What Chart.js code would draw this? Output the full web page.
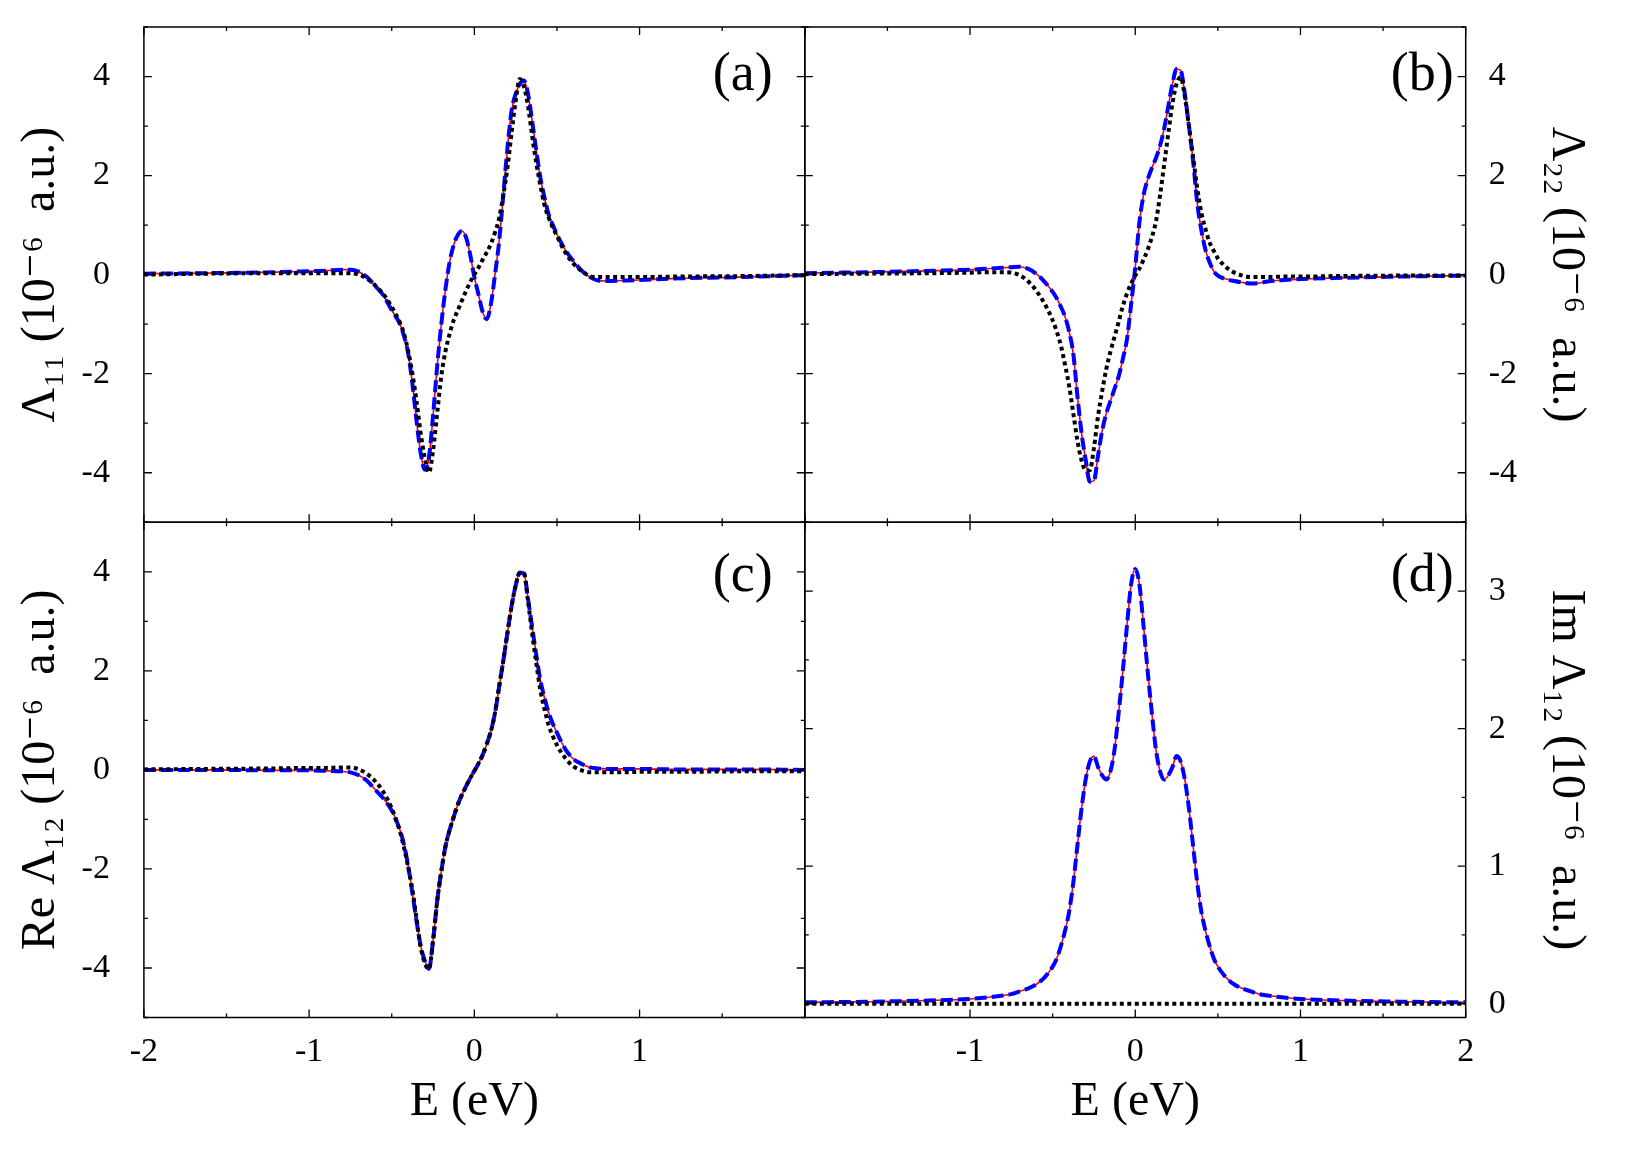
<!DOCTYPE html>
<html>
<head>
<meta charset="utf-8">
<title>Lambda components vs energy</title>
<script src="https://cdn.jsdelivr.net/npm/chart.js@4.4.1/dist/chart.umd.min.js"></script>
<style>
  body { margin: 0; background: #fff; }
  canvas { display: block; }
</style>
</head>
<body>
<canvas id="myChart" width="1630" height="1157"></canvas>
<script>
// energy grid (eV) shared by the curves
const energy = [-2, -1.6, -1.2, -1, -0.9, -0.8, -0.75, -0.7, -0.65, -0.6, -0.55, -0.5,
  -0.475, -0.45, -0.425, -0.4, -0.375, -0.35, -0.325, -0.3, -0.275, -0.25, -0.225, -0.2, -0.175, -0.15, -0.125, -0.1, -0.075, -0.05, -0.025,
  0, 0.025, 0.05, 0.075, 0.1, 0.125, 0.15, 0.175, 0.2, 0.225, 0.25, 0.275, 0.3, 0.325, 0.35, 0.375, 0.4, 0.425, 0.45, 0.475,
  0.5, 0.55, 0.6, 0.65, 0.7, 0.75, 0.8, 0.9, 1, 1.2, 1.6, 2];

// (a) Lambda_11
const aRed = [0.02, 0.03, 0.05, 0.07, 0.08, 0.10, 0.10, 0.06, -0.05, -0.23, -0.42, -0.72,
  -0.85, -1.0, -1.25, -1.6, -2.2, -2.95, -3.6, -3.94, -3.7, -2.85, -1.85, -1.0, -0.3, 0.25, 0.6, 0.8, 0.88, 0.75, 0.4,
  -0.05, -0.4, -0.75, -0.9, -0.6, 0.0, 0.67, 1.6, 2.55, 3.3, 3.65, 3.85, 3.92, 3.65, 3.1, 2.5, 1.95, 1.55, 1.21, 1.0,
  0.81, 0.5, 0.27, 0.08, -0.05, -0.12, -0.13, -0.12, -0.11, -0.08, -0.05, -0.01];
const aBlack = [0.0, 0.02, 0.03, 0.03, 0.03, 0.03, 0.03, 0.0, -0.08, -0.22, -0.4, -0.65,
  -0.8, -0.97, -1.2, -1.55, -2.0, -2.55, -3.2, -3.7, -4.0, -3.55, -2.8, -2.05, -1.55, -1.2, -0.92, -0.72, -0.52, -0.33, -0.15,
  0.0, 0.14, 0.3, 0.45, 0.62, 0.85, 1.14, 1.6, 2.15, 2.85, 3.5, 3.95, 3.8, 3.4, 2.8, 2.25, 1.8, 1.4, 1.15, 0.95,
  0.78, 0.45, 0.22, 0.07, -0.03, -0.05, -0.05, -0.05, -0.05, -0.04, -0.03, -0.01];

// (b) Lambda_22
const bRed = [0.03, 0.05, 0.08, 0.10, 0.12, 0.14, 0.15, 0.16, 0.12, 0.02, -0.14, -0.35,
  -0.48, -0.65, -0.85, -1.15, -1.6, -2.45, -3.2, -3.74, -4.18, -4.16, -3.65, -3.15, -2.8, -2.55, -2.3, -2.05, -1.7, -1.3, -0.6,
  0.15, 1.05, 1.6, 1.92, 2.15, 2.35, 2.6, 2.95, 3.4, 3.85, 4.15, 4.12, 3.65, 3.0, 2.3, 1.45, 0.9, 0.5, 0.25, 0.07,
  -0.02, -0.09, -0.13, -0.16, -0.18, -0.17, -0.14, -0.11, -0.09, -0.07, -0.04, -0.02];
const bBlack = [0.01, 0.02, 0.03, 0.04, 0.05, 0.05, 0.04, -0.01, -0.13, -0.32, -0.58, -0.92,
  -1.15, -1.43, -1.82, -2.25, -2.8, -3.35, -3.75, -3.95, -3.95, -3.5, -2.85, -2.35, -1.9, -1.55, -1.25, -0.95, -0.63, -0.38, -0.18,
  -0.02, 0.12, 0.3, 0.5, 0.75, 1.07, 1.6, 2.22, 2.85, 3.45, 3.85, 3.99, 3.6, 3.0, 2.38, 1.75, 1.25, 0.92, 0.65, 0.48,
  0.33, 0.15, 0.04, -0.02, -0.05, -0.05, -0.05, -0.04, -0.04, -0.03, -0.02, -0.02];

// (c) Re Lambda_12
const cRed = [0.0, 0.0, -0.01, -0.01, -0.02, -0.03, -0.05, -0.11, -0.22, -0.4, -0.58, -0.82,
  -1.0, -1.22, -1.52, -1.95, -2.49, -3.05, -3.55, -3.85, -4.02, -3.45, -2.65, -2.05, -1.55, -1.22, -0.95, -0.7, -0.5, -0.33, -0.17,
  -0.02, 0.13, 0.3, 0.52, 0.78, 1.15, 1.68, 2.2, 2.76, 3.3, 3.72, 3.98, 3.97, 3.45, 2.88, 2.32, 1.8, 1.45, 1.15, 0.93,
  0.75, 0.42, 0.22, 0.12, 0.05, 0.03, 0.02, 0.02, 0.02, 0.01, 0.01, 0.0];
const cBlack = [0.01, 0.02, 0.03, 0.04, 0.04, 0.05, 0.05, 0.01, -0.08, -0.23, -0.45, -0.78,
  -1.0, -1.25, -1.58, -1.97, -2.42, -3.0, -3.58, -3.9, -4.02, -3.45, -2.65, -2.05, -1.55, -1.22, -0.95, -0.7, -0.5, -0.33, -0.17,
  -0.02, 0.13, 0.3, 0.52, 0.78, 1.15, 1.68, 2.2, 2.76, 3.3, 3.72, 3.98, 3.97, 3.4, 2.75, 2.15, 1.6, 1.22, 0.9, 0.68,
  0.5, 0.24, 0.07, -0.01, -0.05, -0.05, -0.05, -0.05, -0.04, -0.04, -0.03, -0.03];

// (d) Im Lambda_12
const dRed = [0.01, 0.015, 0.025, 0.035, 0.045, 0.06, 0.07, 0.09, 0.11, 0.14, 0.19, 0.27,
  0.33, 0.42, 0.53, 0.67, 0.88, 1.15, 1.42, 1.63, 1.76, 1.80, 1.72, 1.66, 1.63, 1.69, 1.85, 2.12, 2.42, 2.75, 3.05,
  3.16, 3.05, 2.75, 2.42, 2.12, 1.85, 1.69, 1.63, 1.66, 1.72, 1.80, 1.76, 1.63, 1.42, 1.15, 0.88, 0.67, 0.53, 0.42, 0.33,
  0.27, 0.19, 0.14, 0.11, 0.09, 0.07, 0.06, 0.045, 0.035, 0.025, 0.015, 0.01];
const dBlackE = [-2, 2];
const dBlack = [0, 0];

// ticks
const xMinor = [-2, -1.5, -1, -0.5, 0, 0.5, 1, 1.5, 2];
const xMajor = [-2, -1, 0, 1, 2];
const xLabelsLeft = [-2, -1, 0, 1];
const xLabelsRight = [-1, 0, 1, 2];
const yMinorAB = [-5, -4, -3, -2, -1, 0, 1, 2, 3, 4, 5];
const yLabelsAB = [-4, -2, 0, 2, 4];
const yMinorD = [0, 0.5, 1, 1.5, 2, 2.5, 3, 3.5];
const yLabelsD = [0, 1, 2, 3];

const serif = '"Liberation Serif", "DejaVu Serif", "Times New Roman", serif';
Chart.defaults.font.family = serif;
Chart.defaults.color = '#000';

function pts(xs, ys) {
  return xs.map((x, i) => ({x: x, y: ys[i]}));
}

const solidRed = {borderColor: '#ff0000', borderWidth: 1.6, order: 3};
const dashBlue = {borderColor: '#0000ff', borderWidth: 4, borderDash: [12, 5], order: 2};
const dotBlack = {borderColor: '#000000', borderWidth: 4, borderDash: [4, 3.5], order: 1};

function curve(label, xs, ys, style, xId, yId) {
  return Object.assign({
    label: label,
    data: pts(xs, ys),
    xAxisID: xId,
    yAxisID: yId,
    pointRadius: 0,
    fill: false,
    cubicInterpolationMode: 'monotone',
    borderCapStyle: 'butt'
  }, style);
}

// no automatic label padding, the plot box is fixed
function noPad(s) {
  s.paddingTop = 0; s.paddingBottom = 0; s.paddingLeft = 0; s.paddingRight = 0;
}

function xAxis(labels, weight) {
  return {
    type: 'linear', position: 'bottom', stack: 'bottom', stackWeight: 1, weight: weight,
    min: -2, max: 2,
    afterFit: s => { s.height = 139.5; noPad(s); },
    afterBuildTicks: s => { s.ticks = labels.map(v => ({value: v})); },
    grid: {display: false}, border: {display: false},
    ticks: {font: {size: 34}, padding: 6, maxRotation: 0, autoSkip: false, callback: v => String(v)},
    title: {display: true, text: 'E (eV)', font: {size: 48}, padding: {top: 0, bottom: 26}}
  };
}

function yAxis(pos, min, max, labels, text, weight) {
  const left = pos === 'left';
  return {
    type: 'linear', position: pos, stack: pos, stackWeight: 1, weight: weight,
    min: min, max: max,
    afterFit: s => { s.width = left ? 143.9 : 164.3; noPad(s); },
    afterBuildTicks: s => { s.ticks = labels.map(v => ({value: v})); },
    grid: {display: false}, border: {display: false},
    ticks: {font: {size: 34}, padding: left ? 26 : 15, autoSkip: false, callback: v => String(v)},
    title: {display: true, text: text, font: {size: 48}, padding: {top: left ? 13 : 36, bottom: 0}}
  };
}

const panels = [
  {x: 'xL', y: 'yA', tag: '(a)', inset: 32, drop: 63, minor: yMinorAB, major: yLabelsAB},
  {x: 'xR', y: 'yB', tag: '(b)', inset: 12, drop: 63, minor: yMinorAB, major: yLabelsAB},
  {x: 'xL', y: 'yC', tag: '(c)', inset: 32, drop: 69, minor: yMinorAB, major: yLabelsAB},
  {x: 'xR', y: 'yD', tag: '(d)', inset: 12, drop: 69, minor: yMinorD, major: yLabelsD}
];

// frame, inward ticks and panel tags
const frames = {
  id: 'frames',
  afterDatasetsDraw(chart) {
    const ctx = chart.ctx;
    panels.forEach(p => {
      const xs = chart.scales[p.x], ys = chart.scales[p.y];
      const l = xs.left, r = xs.right, t = ys.top, b = ys.bottom;
      ctx.save();
      ctx.strokeStyle = '#000';
      ctx.lineWidth = 1.5;
      ctx.strokeRect(l, t, r - l, b - t);
      ctx.lineWidth = 1.3;
      ctx.beginPath();
      xMinor.forEach(v => {
        const px = xs.getPixelForValue(v);
        const len = xMajor.includes(v) ? 8 : 4;
        ctx.moveTo(px, b); ctx.lineTo(px, b - len);
        ctx.moveTo(px, t); ctx.lineTo(px, t + len);
      });
      p.minor.forEach(v => {
        const py = ys.getPixelForValue(v);
        const len = p.major.includes(v) ? 8 : 4;
        ctx.moveTo(l, py); ctx.lineTo(l + len, py);
        ctx.moveTo(r, py); ctx.lineTo(r - len, py);
      });
      ctx.stroke();
      ctx.fillStyle = '#000';
      ctx.font = '54px ' + serif;
      ctx.textAlign = 'right';
      ctx.textBaseline = 'alphabetic';
      ctx.fillText(p.tag, r - p.inset, t + p.drop);
      ctx.restore();
    });
  }
};

const ctx = document.getElementById('myChart').getContext('2d');
const myChart = new Chart(ctx, {
  type: 'line',
  data: {
    datasets: [
      curve('a full', energy, aRed, solidRed, 'xL', 'yA'),
      curve('a approx', energy, aRed, dashBlue, 'xL', 'yA'),
      curve('a simple', energy, aBlack, dotBlack, 'xL', 'yA'),
      curve('b full', energy, bRed, solidRed, 'xR', 'yB'),
      curve('b approx', energy, bRed, dashBlue, 'xR', 'yB'),
      curve('b simple', energy, bBlack, dotBlack, 'xR', 'yB'),
      curve('c full', energy, cRed, solidRed, 'xL', 'yC'),
      curve('c approx', energy, cRed, dashBlue, 'xL', 'yC'),
      curve('c simple', energy, cBlack, dotBlack, 'xL', 'yC'),
      curve('d full', energy, dRed, solidRed, 'xR', 'yD'),
      curve('d approx', energy, dRed, dashBlue, 'xR', 'yD'),
      curve('d simple', dBlackE, dBlack, dotBlack, 'xR', 'yD')
    ]
  },
  options: {
    responsive: false,
    animation: false,
    devicePixelRatio: 1,
    layout: {padding: {top: 27, left: 0, right: 0, bottom: 0}},
    plugins: {legend: {display: false}, tooltip: {enabled: false}},
    scales: {
      xL: xAxis(xLabelsLeft, 1),
      xR: xAxis(xLabelsRight, 2),
      yA: yAxis('left', -5, 5, yLabelsAB, 'Λ₁₁ (10⁻⁶  a.u.)', 2),
      yC: yAxis('left', -5, 5, yLabelsAB, 'Re Λ₁₂ (10⁻⁶  a.u.)', 1),
      yB: yAxis('right', -5, 5, yLabelsAB, 'Λ₂₂ (10⁻⁶  a.u.)', 1),
      yD: yAxis('right', -0.1, 3.5, yLabelsD, 'Im Λ₁₂ (10⁻⁶  a.u.)', 2)
    }
  },
  plugins: [frames]
});
</script>
</body>
</html>
